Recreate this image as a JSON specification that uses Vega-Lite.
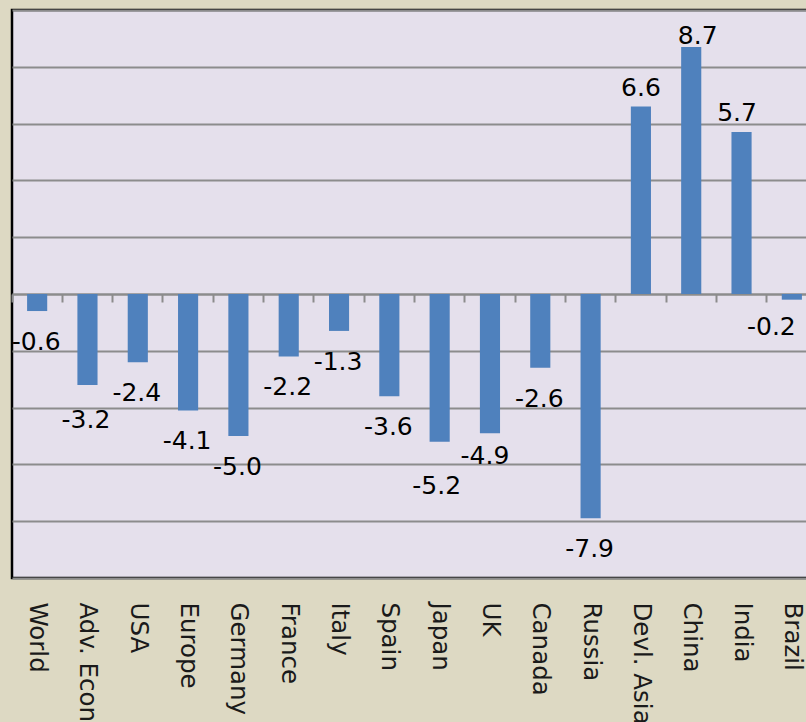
{
  "$schema": "https://vega.github.io/schema/vega-lite/v6.json",
  "autosize": {"type": "none"},
  "padding": {"left": 12, "top": 10, "right": 0, "bottom": 144},
  "width": 805,
  "height": 568,
  "background": "#ddd9c3",
  "config": {
    "view": {"fill": "#e5e0ec", "stroke": "#000000", "strokeWidth": 2.5},
    "font": "DejaVu Sans",
    "text": {"baseline": "middle", "fontSize": 25, "color": "#000000", "font": "DejaVu Sans"}
  },
  "data": {
    "values": [
      {"region": "World", "value": -0.6},
      {"region": "Adv. Economies", "value": -3.2},
      {"region": "USA", "value": -2.4},
      {"region": "Europe", "value": -4.1},
      {"region": "Germany", "value": -5.0},
      {"region": "France", "value": -2.2},
      {"region": "Italy", "value": -1.3},
      {"region": "Spain", "value": -3.6},
      {"region": "Japan", "value": -5.2},
      {"region": "UK", "value": -4.9},
      {"region": "Canada", "value": -2.6},
      {"region": "Russia", "value": -7.9},
      {"region": "Devl. Asia", "value": 6.6},
      {"region": "China", "value": 8.7},
      {"region": "India", "value": 5.7},
      {"region": "Brazil", "value": -0.2}
    ]
  },
  "transform": [
    {"calculate": "replace(format(datum.value, '.1f'), '\u2212', '-')", "as": "label"}
  ],
  "encoding": {
    "y": {
      "field": "value",
      "type": "quantitative",
      "scale": {"domain": [-10, 10], "nice": false, "zero": true},
      "axis": {
        "title": null,
        "labels": false,
        "ticks": false,
        "domain": false,
        "values": [-10, -8, -6, -4, -2, 0, 2, 4, 6, 8, 10],
        "grid": true,
        "gridColor": "#8c8c8c",
        "gridWidth": 2,
        "gridOpacity": 1
      }
    }
  },
  "layer": [
    {
      "mark": {"type": "rule", "color": "#8c8c8c", "strokeWidth": 0, "opacity": 0},
      "encoding": {
        "x": {
          "field": "region",
          "type": "nominal",
          "sort": null,
          "scale": {"paddingInner": 0, "paddingOuter": 0},
          "axis": {
            "orient": "top",
            "offset": -284,
            "title": null,
            "labels": false,
            "grid": false,
            "domain": true,
            "domainColor": "#8c8c8c",
            "domainWidth": 2,
            "ticks": true,
            "bandPosition": 0,
            "tickSize": -8,
            "tickColor": "#8c8c8c",
            "tickWidth": 2
          }
        }
      }
    },
    {
      "mark": {"type": "bar", "color": "#4f81bd", "width": {"band": 0.4}},
      "encoding": {
        "x": {
          "field": "region",
          "type": "nominal",
          "sort": null,
          "axis": {
            "orient": "bottom",
            "title": null,
            "ticks": false,
            "domain": false,
            "grid": false,
            "labelAngle": 90,
            "labelAlign": "left",
            "labelBaseline": "middle",
            "labelPadding": 24,
            "labelFontSize": 24.5,
            "labelColor": "#1a1a1a",
            "labelFont": "DejaVu Sans",
            "labelOverlap": false,
            "labelLimit": 0
          }
        }
      }
    },
    {
      "transform": [{"filter": "datum.value < 0 && indexof(['Adv. Economies','Japan','UK','Brazil'], datum.region) < 0"}],
      "mark": {"type": "text", "dy": 31, "dx": -1},
      "encoding": {
        "x": {"field": "region", "type": "nominal", "sort": null, "axis": null},
        "text": {"field": "label", "type": "nominal"}
      }
    },
    {
      "transform": [{"filter": "datum.region == 'Adv. Economies'"}],
      "mark": {"type": "text", "dy": 35, "dx": -1.5},
      "encoding": {
        "x": {"field": "region", "type": "nominal", "sort": null, "axis": null},
        "text": {"field": "label", "type": "nominal"}
      }
    },
    {
      "transform": [{"filter": "datum.region == 'Japan'"}],
      "mark": {"type": "text", "dy": 44, "dx": -3},
      "encoding": {
        "x": {"field": "region", "type": "nominal", "sort": null, "axis": null},
        "text": {"field": "label", "type": "nominal"}
      }
    },
    {
      "transform": [{"filter": "datum.region == 'UK'"}],
      "mark": {"type": "text", "dy": 23, "dx": -5},
      "encoding": {
        "x": {"field": "region", "type": "nominal", "sort": null, "axis": null},
        "text": {"field": "label", "type": "nominal"}
      }
    },
    {
      "transform": [{"filter": "datum.region == 'Brazil'"}],
      "mark": {"type": "text", "dy": 27.5, "dx": -20.5},
      "encoding": {
        "x": {"field": "region", "type": "nominal", "sort": null, "axis": null},
        "text": {"field": "label", "type": "nominal"}
      }
    },
    {
      "transform": [{"filter": "datum.region == 'Devl. Asia'"}],
      "mark": {"type": "text", "dy": -18.5},
      "encoding": {
        "x": {"field": "region", "type": "nominal", "sort": null, "axis": null},
        "text": {"field": "label", "type": "nominal"}
      }
    },
    {
      "transform": [{"filter": "datum.region == 'China'"}],
      "mark": {"type": "text", "dy": -10.5, "dx": 6.5},
      "encoding": {
        "x": {"field": "region", "type": "nominal", "sort": null, "axis": null},
        "text": {"field": "label", "type": "nominal"}
      }
    },
    {
      "transform": [{"filter": "datum.region == 'India'"}],
      "mark": {"type": "text", "dy": -19.5, "dx": -4.5},
      "encoding": {
        "x": {"field": "region", "type": "nominal", "sort": null, "axis": null},
        "text": {"field": "label", "type": "nominal"}
      }
    }
  ],
  "resolve": {"axis": {"x": "independent"}}
}
